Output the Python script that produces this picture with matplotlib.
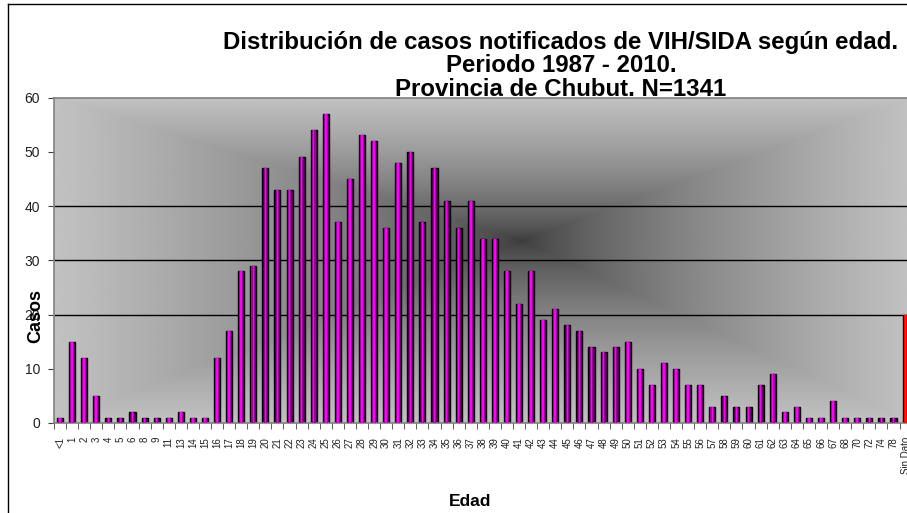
import matplotlib
matplotlib.use("Agg")
import matplotlib.pyplot as plt
import numpy as np
from matplotlib.lines import Line2D

# Ages with notified cases (last category = unknown age)
edades = (["<1", "1", "2", "3", "4", "5", "6", "8", "9", "11", "13", "14", "15"]
          + [str(a) for a in range(16, 68)]
          + ["68", "70", "72", "74", "78", "Sin Dato"])

casos = [1, 15, 12, 5, 1, 1, 2, 1, 1, 1, 2, 1, 1,
         12, 17, 28, 29, 47, 43, 43, 49, 54, 57,
         37, 45, 53, 52, 36, 48, 50, 37, 47, 41,
         36, 41, 34, 34, 28, 22, 28, 19, 21, 18,
         17, 14, 13, 14, 15, 10, 7, 11, 10, 7,
         7, 3, 5, 3, 3, 7, 9, 2, 3, 1, 1, 4,
         1, 1, 1, 1, 1, 20]

titulo = ["Distribución de casos notificados de VIH/SIDA según edad.",
          "Periodo 1987 - 2010.",
          "Provincia de Chubut. N=1341"]

plt.rcParams["font.family"] = ["Liberation Sans", "DejaVu Sans"]

W, H = 907, 513
fig = plt.figure(figsize=(W / 100, H / 100), dpi=100)
fig.patch.set_facecolor("white")

# plot area in pixel coords: x 54..911.6, y 97.5..423
ax = fig.add_axes([54 / W, (H - 423) / H, (911.6 - 54) / W, (423 - 97.5) / H])

n = len(casos)
x = np.arange(n)
xmin, xmax = -0.5, n - 0.5
ymin, ymax = 0, 60

# rectangular "from center" grey gradient background
cx, cy = 0.545, 0.56
gx = np.linspace(0, 1, 600)
gy = np.linspace(0, 1, 300)
GX, GY = np.meshgrid(gx, gy)
dx = np.where(GX < cx, (cx - GX) / cx, (GX - cx) / (1 - cx))
dy = np.where(GY < cy, (cy - GY) / cy, (GY - cy) / (1 - cy))
t = np.maximum(dx, dy)
dark, light = 0.23, 0.76
grey = dark + (light - dark) * t ** 0.7
ax.imshow(grey, cmap="gray", vmin=0, vmax=1, origin="lower", aspect="auto",
          extent=[xmin, xmax, ymin, ymax], zorder=0, interpolation="bilinear")

# gridlines as in the reference
for g in (20, 30, 40):
    ax.axhline(g, color="black", lw=1, zorder=1)

# bars: cylinder-like shading built from stacked bars
outer = ["#560056"] * (n - 1) + ["#d00000"]
mid = ["#a000a0"] * (n - 1) + ["#ff0000"]
inner = ["#ff00ff"] * (n - 1) + ["#ff2020"]
ax.bar(x, casos, width=0.5, color=outer, edgecolor="black", linewidth=1.0, zorder=2)
ax.bar(x, casos, width=0.3, color=mid, linewidth=0, zorder=3)
ax.bar(x, casos, width=0.13, color=inner, linewidth=0, zorder=4)

ax.set_xlim(xmin, xmax)
ax.set_ylim(ymin, ymax)

ax.set_yticks(range(0, 61, 10))
ax.tick_params(axis="y", direction="out", length=4, color="#404040",
               labelsize=10, labelcolor="#202020", pad=6)

ax.set_xticks(x)
ax.set_xticklabels(edades, rotation=90, fontsize=7, color="#202020")
ax.set_xticks(np.arange(n + 1) - 0.5, minor=True)
ax.tick_params(axis="x", which="major", length=0, pad=10)
ax.tick_params(axis="x", which="minor", direction="out", length=4, color="#404040")

for side in ("left", "bottom", "top"):
    ax.spines[side].set_color("#808080")
    ax.spines[side].set_linewidth(1.2)
ax.spines["right"].set_visible(False)

ax.set_ylabel("Casos", fontsize=13, fontweight="bold", labelpad=-2)
ax.yaxis.set_label_coords(-0.011, 0.33)
fig.text(470 / W, 1 - 501 / H, "Edad", fontsize=12.5, fontweight="bold",
         ha="center", va="center")

# three title lines, 24 px apart
for i, linea in enumerate(titulo):
    fig.text(561 / W, 1 - (42 + 24 * i) / H, linea, fontsize=17.3,
             fontweight="bold", ha="center", va="center")

# chart-area border (only left and top edges fall inside the picture)
fig.add_artist(Line2D([8 / W, 8 / W], [0, 1 - 4 / H], color="black", lw=1))
fig.add_artist(Line2D([8 / W, 1], [1 - 4 / H, 1 - 4 / H], color="black", lw=1))

fig.savefig("out.png", dpi=100)
